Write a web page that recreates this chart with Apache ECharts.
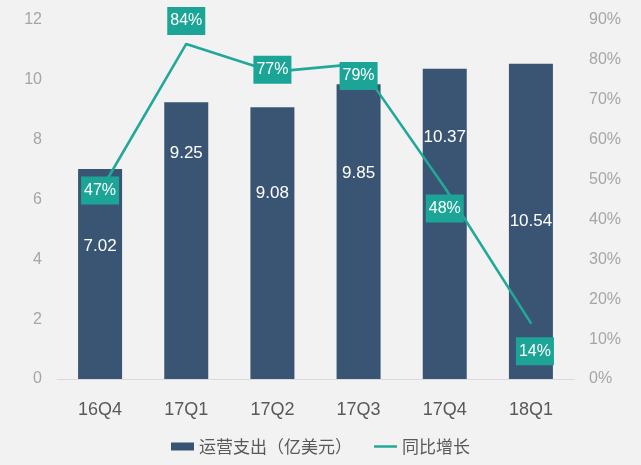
<!DOCTYPE html>
<html><head><meta charset="utf-8">
<script src="https://cdn.jsdelivr.net/npm/echarts@6/dist/echarts.min.js"></script>
<style>html,body{margin:0;padding:0;background:#f2f2f2;}#c{width:641px;height:465px;}</style>
</head><body><div id="c"></div>
<script>
const categories = ['16Q4','17Q1','17Q2','17Q3','17Q4','18Q1'];
const opex = [7.02, 9.25, 9.08, 9.85, 10.37, 10.54];
const growth = [47, 84, 77, 79, 48, 14];
const leftTicks = [0, 2, 4, 6, 8, 10, 12];
const rightTicks = [0, 10, 20, 30, 40, 50, 60, 70, 80, 90];

// label placement tweaks (style only): distance of label centre below bar top, and line label offsets
const barLabelDist = [78, 52, 86, 89, 69, 158];
const lineLabelOffset = [[0, -1], [0, -23], [0, -2], [0, 12], [0, 21], [4, 28]];

const font = 'Microsoft YaHei, "Noto Sans CJK SC", Arial, sans-serif';
const chart = echarts.init(document.getElementById('c'));
chart.setOption({
  backgroundColor: '#f2f2f2',
  animation: false,
  grid: {left: 57, right: 67, top: 20, bottom: 86},
  legend: {
    top: 433, left: 'center', itemGap: 22, itemWidth: 23, itemHeight: 8,
    textStyle: {color: '#595959', fontSize: 17, fontFamily: font},
    data: [{name: '运营支出（亿美元）', icon: 'rect'},
           {name: '同比增长', icon: 'path://M0,3 L24,3 L24,5.6 L0,5.6 Z'}]
  },
  xAxis: {
    type: 'category', data: categories,
    axisLine: {lineStyle: {color: '#d9d9d9'}},
    axisTick: {show: false},
    axisLabel: {color: '#595959', fontSize: 18, margin: 22, fontFamily: 'Arial, sans-serif'}
  },
  yAxis: [
    {type: 'value', min: leftTicks[0], max: leftTicks[leftTicks.length-1], interval: 2,
     splitLine: {show: false}, axisLine: {show: false}, axisTick: {show: false},
     axisLabel: {color: '#a6a6a6', fontSize: 16, margin: 15, fontFamily: 'Arial, sans-serif'}},
    {type: 'value', min: rightTicks[0], max: rightTicks[rightTicks.length-1], interval: 10,
     splitLine: {show: false}, axisLine: {show: false}, axisTick: {show: false},
     axisLabel: {color: '#a6a6a6', fontSize: 16, margin: 15, formatter: '{value}%', fontFamily: 'Arial, sans-serif'}}
  ],
  series: [
    {
      name: '运营支出（亿美元）', type: 'bar', barWidth: 44,
      itemStyle: {color: '#3a5573'},
      data: opex.map((v, i) => ({
        value: v,
        label: {show: true, position: 'insideTop', distance: barLabelDist[i] - 9,
          color: '#ffffff', fontSize: 17, fontFamily: 'Arial, sans-serif'}
      }))
    },
    {
      name: '同比增长', type: 'line', yAxisIndex: 1,
      symbol: 'circle', symbolSize: 2, showSymbol: true, z: 5,
      lineStyle: {color: '#22a898', width: 2.6},
      itemStyle: {color: '#22a898'},
      data: growth.map((v, i) => ({
        value: v,
        label: {show: true, position: 'inside', offset: lineLabelOffset[i],
          formatter: '{c}%', color: '#ffffff', backgroundColor: '#1ca596',
          padding: [7, 3, 5, 3], fontSize: 16, fontFamily: 'Arial, sans-serif'}
      }))
    }
  ]
});
</script></body></html>
